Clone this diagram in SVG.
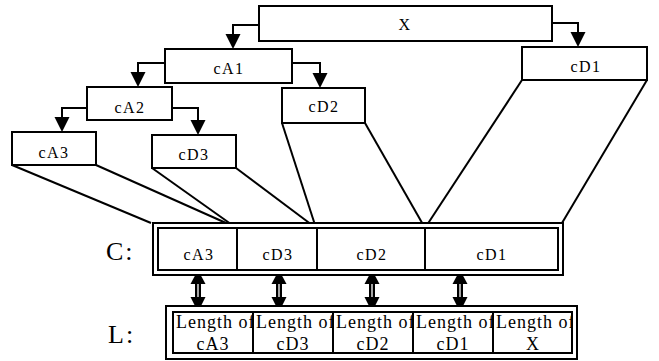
<svg xmlns="http://www.w3.org/2000/svg" width="659" height="361" viewBox="0 0 659 361">
<style>
.box{fill:#fff;stroke:#000;stroke-width:2}
.ln{fill:none;stroke:#000;stroke-width:2}
.t{font-family:"Liberation Serif","Times New Roman",serif;font-size:16px;fill:#000;text-anchor:middle;letter-spacing:1.5px}
.tl{font-family:"Liberation Serif","Times New Roman",serif;font-size:18px;fill:#000;text-anchor:middle;letter-spacing:1px}
.ts{font-family:"Liberation Serif","Times New Roman",serif;font-size:18px;fill:#000;letter-spacing:1px}
.big{font-family:"Liberation Serif","Times New Roman",serif;font-size:26px;fill:#000;letter-spacing:2px}
.dbl{stroke:#000;stroke-width:6}
.dblw{stroke:#fff;stroke-width:1.3}
</style>
<defs>
<clipPath id="c1"><rect x="173" y="312" width="79" height="41"/></clipPath>
<clipPath id="c2"><rect x="253" y="312" width="79" height="41"/></clipPath>
<clipPath id="c3"><rect x="333" y="312" width="79" height="41"/></clipPath>
<clipPath id="c4"><rect x="413" y="312" width="79" height="41"/></clipPath>
<clipPath id="c5"><rect x="493" y="312" width="78" height="41"/></clipPath>
</defs>

<g id="connectors">
  <polyline class="ln" points="259,25 233,25 233,36"/>
  <path d="M225.5,34 L240.5,34 L233,49 z"/>
  <polyline class="ln" points="552,23 578,23 578,34"/>
  <path d="M570.5,32 L585.5,32 L578,47 z"/>
  <polyline class="ln" points="165,63 138,63 138,74"/>
  <path d="M130.5,72 L145.5,72 L138,87 z"/>
  <polyline class="ln" points="292,63 320,63 320,75"/>
  <path d="M312.5,73 L327.5,73 L320,88 z"/>
  <polyline class="ln" points="87,108 62,108 62,119"/>
  <path d="M54.5,117 L69.5,117 L62,132 z"/>
  <polyline class="ln" points="172,108 198,108 198,122"/>
  <path d="M190.5,120 L205.5,120 L198,135 z"/>
  <line class="ln" x1="12" y1="165" x2="151" y2="223"/>
  <line class="ln" x1="96" y1="165" x2="235" y2="227"/>
  <line class="ln" x1="152" y1="168" x2="235" y2="227"/>
  <line class="ln" x1="236" y1="168" x2="316" y2="228"/>
  <line class="ln" x1="282" y1="123" x2="316" y2="228"/>
  <line class="ln" x1="365" y1="123" x2="425" y2="228"/>
  <line class="ln" x1="522" y1="80" x2="425" y2="228"/>
  <line class="ln" x1="647" y1="80" x2="562" y2="223"/>
  <g>
    <line class="dbl" x1="198" y1="282" x2="198" y2="298"/>
    <line class="dblw" x1="198" y1="283" x2="198" y2="297"/>
    <path d="M190.5,284 L205.5,284 L198,270 z"/>
    <path d="M190.5,297 L205.5,297 L198,312 z"/>
  </g>
  <g>
    <line class="dbl" x1="279" y1="282" x2="279" y2="298"/>
    <line class="dblw" x1="279" y1="283" x2="279" y2="297"/>
    <path d="M271.5,284 L286.5,284 L279,270 z"/>
    <path d="M271.5,297 L286.5,297 L279,312 z"/>
  </g>
  <g>
    <line class="dbl" x1="372" y1="282" x2="372" y2="298"/>
    <line class="dblw" x1="372" y1="283" x2="372" y2="297"/>
    <path d="M364.5,284 L379.5,284 L372,270 z"/>
    <path d="M364.5,297 L379.5,297 L372,312 z"/>
  </g>
  <g>
    <line class="dbl" x1="460" y1="282" x2="460" y2="298"/>
    <line class="dblw" x1="460" y1="283" x2="460" y2="297"/>
    <path d="M452.5,284 L467.5,284 L460,270 z"/>
    <path d="M452.5,297 L467.5,297 L460,312 z"/>
  </g>
</g>

<g id="X"><rect class="box" x="259" y="6" width="293" height="35"/><text class="t" x="405" y="30">X</text></g>
<g id="cA1"><rect class="box" x="165" y="49" width="127" height="34"/><text class="t" x="229" y="74">cA1</text></g>
<g id="cD1"><rect class="box" x="522" y="47" width="125" height="33"/><text class="t" x="586" y="72">cD1</text></g>
<g id="cA2"><rect class="box" x="87" y="87" width="85" height="33"/><text class="t" x="130" y="113">cA2</text></g>
<g id="cD2"><rect class="box" x="282" y="88" width="83" height="35"/><text class="t" x="324" y="112">cD2</text></g>
<g id="cA3"><rect class="box" x="12" y="132" width="84" height="33"/><text class="t" x="54" y="158">cA3</text></g>
<g id="cD3"><rect class="box" x="152" y="135" width="84" height="33"/><text class="t" x="194" y="160">cD3</text></g>

<g id="C">
  <text class="big" x="106" y="260">C:</text>
  <rect class="box" x="153" y="223" width="410" height="52"/>
  <rect class="box" x="158" y="228" width="400" height="42"/>
  <line class="ln" x1="237" y1="228" x2="237" y2="270"/>
  <line class="ln" x1="317" y1="228" x2="317" y2="270"/>
  <line class="ln" x1="425" y1="228" x2="425" y2="270"/>
  <text class="t" x="199" y="260">cA3</text>
  <text class="t" x="278" y="260">cD3</text>
  <text class="t" x="372" y="260">cD2</text>
  <text class="t" x="492" y="260">cD1</text>
</g>

<g id="L">
  <text class="big" x="108" y="343">L:</text>
  <rect class="box" x="166" y="306" width="411" height="53"/>
  <rect class="box" x="173" y="312" width="399" height="41"/>
  <line class="ln" x1="253" y1="312" x2="253" y2="353"/>
  <line class="ln" x1="333" y1="312" x2="333" y2="353"/>
  <line class="ln" x1="413" y1="312" x2="413" y2="353"/>
  <line class="ln" x1="493" y1="312" x2="493" y2="353"/>
  <text class="ts" x="176" y="328" clip-path="url(#c1)">Length of</text>
  <text class="tl" x="213" y="350">cA3</text>
  <text class="ts" x="256" y="328" clip-path="url(#c2)">Length of</text>
  <text class="tl" x="293" y="350">cD3</text>
  <text class="ts" x="336" y="328" clip-path="url(#c3)">Length of</text>
  <text class="tl" x="373" y="350">cD2</text>
  <text class="ts" x="416" y="328" clip-path="url(#c4)">Length of</text>
  <text class="tl" x="453" y="350">cD1</text>
  <text class="ts" x="496" y="328" clip-path="url(#c5)">Length of</text>
  <text class="tl" x="533" y="350">X</text>
</g>
</svg>
